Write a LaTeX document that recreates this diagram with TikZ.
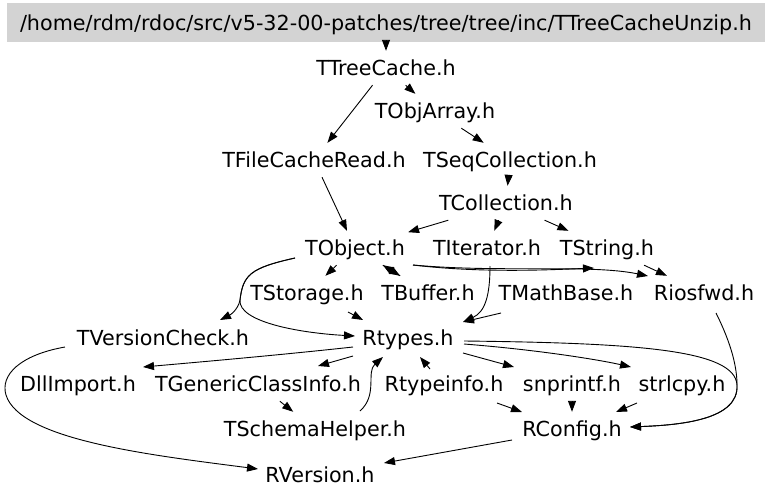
\documentclass[tikz,border=0pt]{standalone}
\usepackage{fontspec}
\setmainfont{DejaVu Sans}
\usetikzlibrary{arrows.meta,calc}
\definecolor{hdrgray}{RGB}{211,211,211}
\begin{document}
\begin{tikzpicture}[x=1pt,y=-1pt,
  every node/.style={font=\fontsize{20.7}{24}\selectfont},
  file/.style={inner xsep=3pt, inner ysep=0pt, text height=15pt, text depth=0pt, minimum height=34pt},
  hdr/.style={fill=hdrgray, minimum width=758pt, minimum height=39pt, inner sep=0pt, text height=15pt, text depth=0pt},
  e/.style={draw=black, line width=0.9pt, -{Triangle[length=11pt,width=8pt]}}]
\useasboundingbox (0,0) rectangle (768,498);
\node[hdr] (title) at (386,22.5) {/home/rdm/rdoc/src/v5-32-00-patches/tree/tree/inc/TTreeCacheUnzip.h};
\node[file] (TTreeCache) at (386,68) {TTreeCache.h};
\node[file] (TObjArray) at (435,111) {TObjArray.h};
\node[file] (TFileCacheRead) at (314,160) {TFileCacheRead.h};
\node[file] (TSeqCollection) at (510,160) {TSeqCollection.h};
\node[file] (TCollection) at (506,203) {TCollection.h};
\node[file] (TObject) at (355,248) {TObject.h};
\node[file] (TIterator) at (487,248) {TIterator.h};
\node[file] (TString) at (607,248) {TString.h};
\node[file] (TStorage) at (307,293) {TStorage.h};
\node[file] (TBuffer) at (428,293) {TBuffer.h};
\node[file] (TMathBase) at (566,293) {TMathBase.h};
\node[file] (Riosfwd) at (704,293) {Riosfwd.h};
\node[file] (TVersionCheck) at (163,338) {TVersionCheck.h};
\node[file] (Rtypes) at (408,338) {Rtypes.h};
\node[file] (DllImport) at (78,384) {DllImport.h};
\node[file] (TGenericClassInfo) at (258,384) {TGenericClassInfo.h};
\node[file] (Rtypeinfo) at (444,384) {Rtypeinfo.h};
\node[file] (snprintf) at (572,384) {snprintf.h};
\node[file] (strlcpy) at (682,384) {strlcpy.h};
\node[file] (TSchemaHelper) at (315,429) {TSchemaHelper.h};
\node[file] (RConfig) at (572,429) {RConfig.h};
\node[file] (RVersion) at (320,475) {RVersion.h};

\draw[e] (title.south -| TTreeCache) -- (TTreeCache);
\draw[e] (TTreeCache) -- (TFileCacheRead);
\draw[e] (TTreeCache) -- (TObjArray);
\draw[e] (TObjArray) -- (TSeqCollection);
\draw[e] (TSeqCollection) -- (TCollection);
\draw[e] (TCollection) -- (TObject);
\draw[e] (TCollection) -- (TIterator);
\draw[e] (TCollection) -- (TString);
\draw[e] (TFileCacheRead) -- (TObject);
\draw[e] (TObject) -- (TStorage);
\draw[e] (TObject) -- (TBuffer);
\draw[e] (TBuffer) -- (TObject);
\draw[e] ($(TObject)+(58,17)$) .. controls ($(TObject)+(125,25)$) and ($(TString)+(-60,22)$) .. ($(TString)+(-13,20)$);
\draw[e] ($(TObject)+(58,17)$) .. controls ($(TObject)+(145,25)$) and ($(Riosfwd)+(-114,-29)$) .. ($(Riosfwd)+(-56,-17)$);
\draw[e] (TString) -- (Riosfwd);
\draw[e] ($(TIterator)+(3,18)$) .. controls ($(TIterator)+(3,48)$) and ($(Rtypes)+(77,-26)$) .. ($(Rtypes)+(55,-16)$);
\draw[e] ($(TMathBase)+(-65,20)$) -- ($(Rtypes)+(55,-16)$);
\draw[e] ($(TStorage)+(41,19)$) -- ($(Rtypes)+(-45,-18)$);
\draw[e] ($(TObject)+(-60,10)$) .. controls ($(TObject)+(-105,20)$) and ($(TObject)+(-112,27)$) .. ($(TVersionCheck)+(77,-38)$)
  .. controls ($(TVersionCheck)+(75,-28)$) and ($(TVersionCheck)+(67,-23)$) .. ($(TVersionCheck)+(57,-18)$);
\draw[e] ($(TObject)+(-60,10)$) .. controls ($(TObject)+(-105,20)$) and ($(TObject)+(-112,27)$) .. ($(Rtypes)+(-168,-38)$)
  .. controls ($(Rtypes)+(-170,-16)$) and ($(Rtypes)+(-108,-5)$) .. ($(Rtypes)+(-53,-2)$);
\draw[e] ($(Rtypes)+(-55,9)$) .. controls ($(Rtypes)+(-128,17)$) and ($(DllImport)+(122,-22)$) .. ($(DllImport)+(65,-17)$);
\draw[e] ($(Rtypes)+(-55,18)$) -- ($(TGenericClassInfo)+(60,-18)$);
\draw[e] (TGenericClassInfo) -- (TSchemaHelper);
\draw[e] ($(TSchemaHelper)+(45,-18)$) .. controls ($(Rtypes)+(-30,57)$) and ($(Rtypes)+(-42,34)$) .. ($(Rtypes)+(-25,19)$);
\draw[e] ($(Rtypeinfo)+(-14,-15)$) -- ($(Rtypes)+(12,19)$);
\draw[e] ($(Rtypes)+(55,15)$) -- ($(snprintf)+(-58,-17)$);
\draw[e] ($(Rtypes)+(56,6)$) .. controls ($(Rtypes)+(132,12)$) and ($(strlcpy)+(-82,-24)$) .. ($(strlcpy)+(-51,-17)$);
\draw[e] ($(Rtypes)+(56,3)$) .. controls ($(Rtypes)+(232,5)$) and ($(Rtypes)+(327,12)$) .. ($(RConfig)+(165,-44)$)
  .. controls ($(RConfig)+(167,-9)$) and ($(RConfig)+(108,-4)$) .. ($(RConfig)+(58,-2)$);
\draw[e] ($(Riosfwd)+(12,20)$) .. controls ($(Riosfwd)+(28,52)$) and ($(Riosfwd)+(33,75)$) .. ($(RConfig)+(165,-44)$)
  .. controls ($(RConfig)+(167,-9)$) and ($(RConfig)+(108,-4)$) .. ($(RConfig)+(58,-2)$);
\draw[e] ($(Rtypeinfo)+(53,19)$) -- ($(RConfig)+(-50,-17)$);
\draw[e] (snprintf) -- (RConfig);
\draw[e] ($(strlcpy)+(-45,19)$) -- ($(RConfig)+(44,-17)$);
\draw[e] ($(RConfig)+(-60,11)$) -- ($(RVersion)+(64,-12)$);
\draw[e] ($(TVersionCheck)+(-98,9)$) .. controls ($(TVersionCheck)+(-143,17)$) and ($(TVersionCheck)+(-163,37)$) .. ($(TVersionCheck)+(-157,57)$)
  .. controls ($(RVersion)+(-300,-35)$) and ($(RVersion)+(-170,-20)$) .. ($(RVersion)+(-62,-6)$);
\end{tikzpicture}
\end{document}
